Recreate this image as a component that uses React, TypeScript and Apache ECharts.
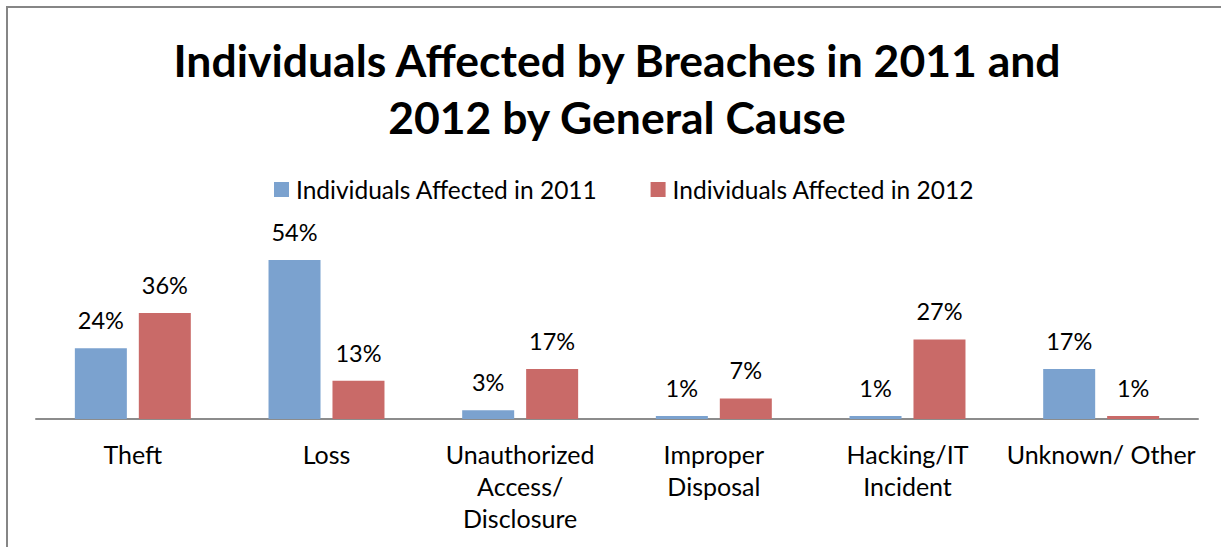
import React, { useEffect, useRef } from "react";
import * as echarts from "echarts";

const categories = ["Theft", "Loss", "Unauthorized\nAccess/\nDisclosure", "Improper\nDisposal", "Hacking/IT\nIncident", "Unknown/ Other"];
const series2011 = [24, 54, 3, 1, 1, 17];
const series2012 = [36, 13, 17, 7, 27, 1];
const seriesNames = ["Individuals Affected in 2011", "Individuals Affected in 2012"];
const titleText = "Individuals Affected by Breaches in 2011 and\n2012 by General Cause";

const FONT = "Lato";

export default function App() {
  const ref = useRef<HTMLDivElement>(null);
  useEffect(() => {
    if (!ref.current) return;
    const chart = echarts.init(ref.current, undefined, { renderer: "svg" });
    const label = {
      show: true,
      position: "top",
      distance: 16,
      formatter: "{c}%",
      fontFamily: FONT,
      fontSize: 23.5,
      color: "#000",
    };
    chart.setOption({
      animation: false,
      backgroundColor: "#fff",
      title: {
        text: titleText,
        left: 617,
        textAlign: "center",
        top: 31,
        padding: 0,
        textStyle: {
          fontFamily: FONT,
          fontWeight: "bold",
          fontSize: 44.5,
          lineHeight: 57,
          color: "#000",
        },
      },
      legend: {
        left: 274,
        top: 177,
        padding: 0,
        icon: "rect",
        itemWidth: 15,
        itemHeight: 15,
        itemGap: 53,
        textStyle: { fontFamily: FONT, fontSize: 24.5, color: "#000", padding: [0, 0, 0, 2] },
        data: seriesNames,
      },
      graphic: [
        {
          type: "rect",
          shape: { x: 7, y: 7, width: 1260, height: 600 },
          style: { fill: "none", stroke: "#868686", lineWidth: 2 },
          silent: true,
        },
      ],
      grid: { left: 36, right: 23, top: 242.3, bottom: 128 },
      xAxis: {
        type: "category",
        data: categories,
        axisLine: { show: true, lineStyle: { color: "#8c8c8c", width: 2 } },
        axisTick: { show: false },
        axisLabel: {
          interval: 0,
          margin: 19,
          fontFamily: FONT,
          fontSize: 25,
          lineHeight: 32,
          color: "#000",
        },
      },
      yAxis: {
        type: "value",
        min: 0,
        max: 60,
        show: false,
        splitLine: { show: false },
      },
      series: [
        {
          name: seriesNames[0],
          type: "bar",
          data: series2011,
          barWidth: 52,
          barGap: "23%",
          itemStyle: { color: "#7ba2cf" },
          label,
        },
        {
          name: seriesNames[1],
          type: "bar",
          data: series2012,
          barWidth: 52,
          barGap: "23%",
          itemStyle: { color: "#c96a68" },
          label,
        },
      ],
    });
    return () => chart.dispose();
  }, []);
  return (
    <div
      ref={ref}
      style={{ position: "fixed", left: 0, top: 0, width: 1221, height: 547 }}
    />
  );
}
